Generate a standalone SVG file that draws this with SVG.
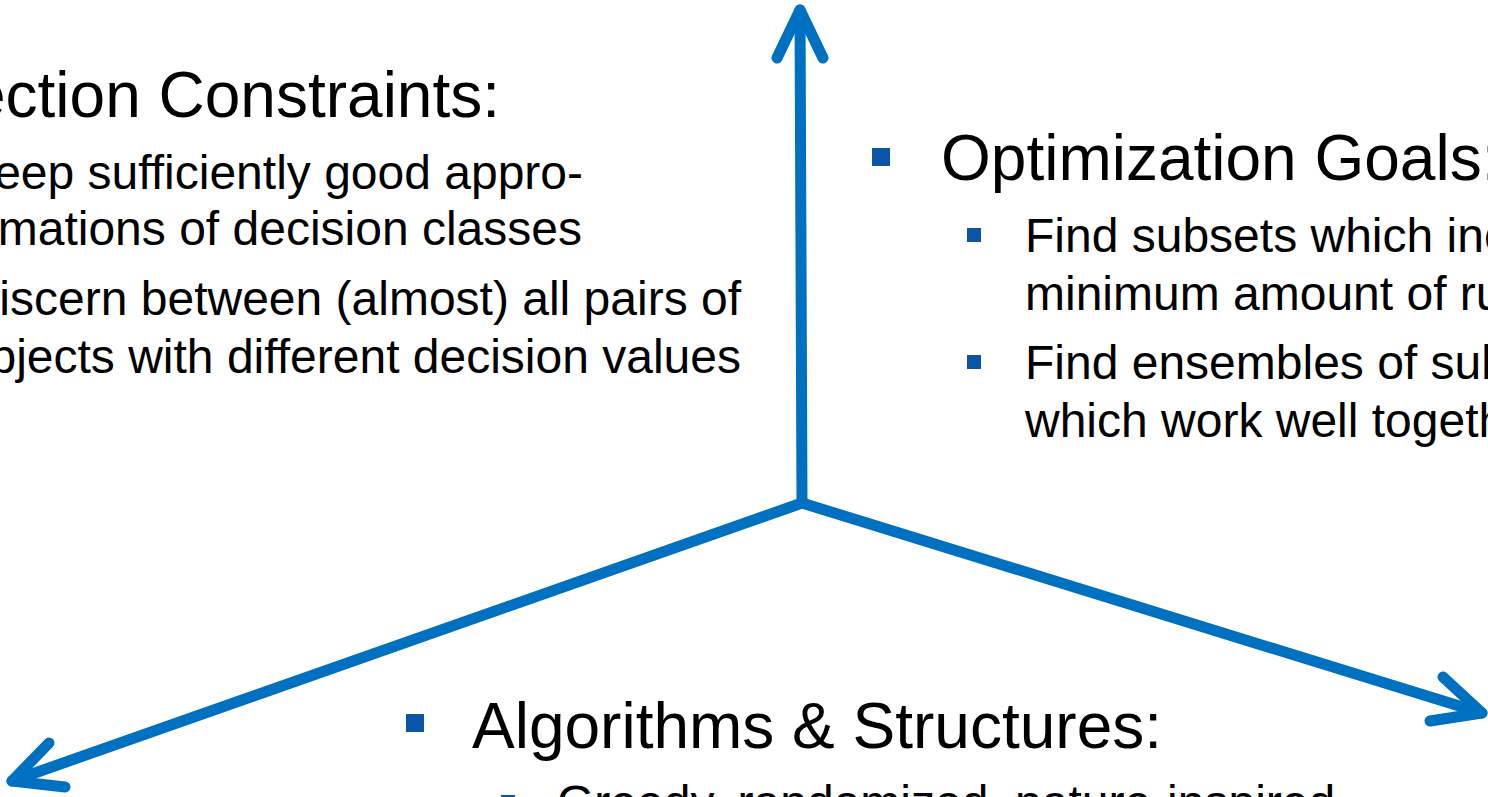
<svg xmlns="http://www.w3.org/2000/svg" width="1488" height="797" viewBox="0 0 1488 797">
<style>
.h{font-family:"Liberation Sans",Arial,sans-serif;font-size:64px;fill:#000}
.s{font-family:"Liberation Sans",Arial,sans-serif;font-size:48px;fill:#000}
.b{fill:#0B55A6}
.ax{fill:none;stroke:#0070C0;stroke-width:11;stroke-linecap:round;stroke-linejoin:round}
</style>
<rect width="1488" height="797" fill="#fff"/>
<g id="connectors">
<path class="ax" d="M802,503 L800,10"/>
<path class="ax" d="M777,58 L800,10 L823,58"/>
<path class="ax" d="M802,503 L12,781"/>
<path class="ax" d="M49,743 L12,781 L65,787"/>
<path class="ax" d="M802,503 L1482,713"/>
<path class="ax" d="M1443,677 L1482,713 L1430,721"/>
</g>
<g id="selection-constraints">
<text class="h" x="500" y="117" text-anchor="end">ection Constraints:</text>
<text class="s" x="583" y="189" text-anchor="end">eep sufficiently good appro-</text>
<text class="s" x="582" y="245" text-anchor="end">mations of decision classes</text>
<text class="s" x="741" y="315" text-anchor="end">iscern between (almost) all pairs of</text>
<text class="s" x="741" y="373" text-anchor="end">bjects with different decision values</text>
</g>
<g id="optimization-goals">
<rect class="b" x="872" y="148" width="18" height="18"/>
<text class="h" x="941" y="180">Optimization Goals:</text>
<rect class="b" x="967" y="228" width="14" height="14"/>
<text class="s" x="1025" y="252">Find subsets which inc</text>
<text class="s" x="1025" y="310">minimum amount of ru</text>
<rect class="b" x="967" y="355" width="14" height="14"/>
<text class="s" x="1025" y="379">Find ensembles of sub</text>
<text class="s" x="1025" y="437">which work well togeth</text>
</g>
<g id="algorithms-structures">
<rect class="b" x="406" y="714" width="18" height="18"/>
<text class="h" x="472" y="748">Algorithms &amp; Structures:</text>
<rect class="b" x="501" y="795" width="14" height="14"/>
<text class="s" x="557" y="819">Greedy, randomized, nature-inspired</text>
</g>
</svg>
